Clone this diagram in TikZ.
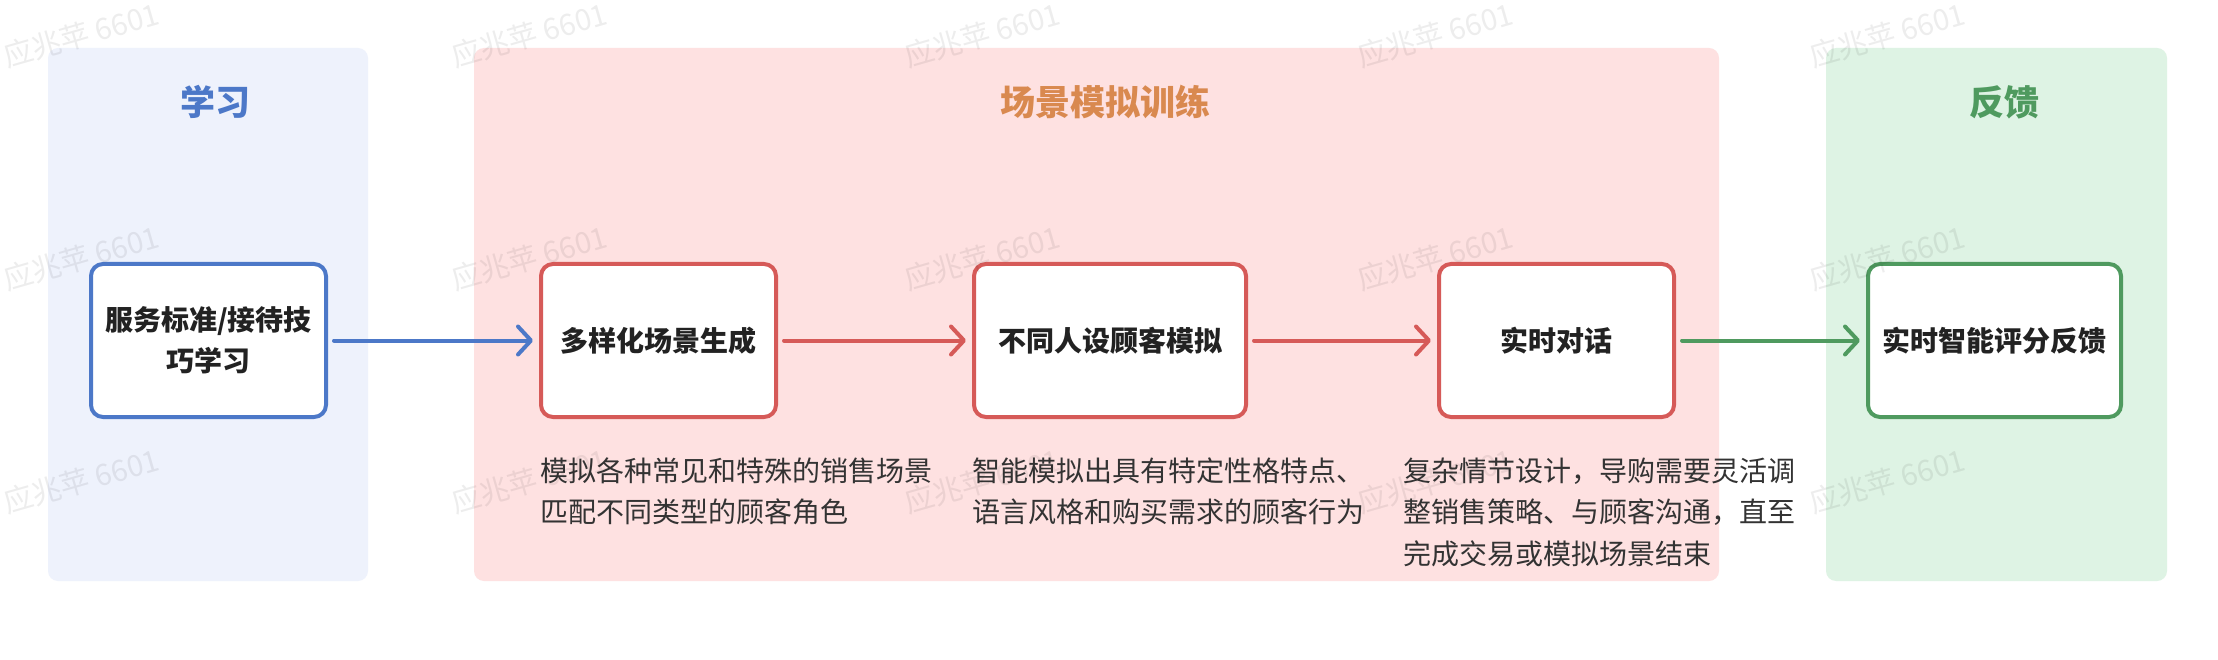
\documentclass[tikz,border=0pt]{standalone}
\usepackage{fontspec}
\setmainfont{Noto Sans CJK SC}
\usetikzlibrary{arrows.meta}
\definecolor{blueC}{HTML}{4C78C8}
\definecolor{blueBg}{HTML}{EEF2FC}
\definecolor{redC}{HTML}{D65A58}
\definecolor{redBg}{HTML}{FEE1E1}
\definecolor{orangeC}{HTML}{D9894F}
\definecolor{greenC}{HTML}{4F9A5F}
\definecolor{greenBg}{HTML}{DEF3E4}
\definecolor{txt}{HTML}{222222}
\definecolor{desc}{HTML}{333333}
\begin{document}
\begin{tikzpicture}[x=1pt,y=-1pt,
  panel/.style={rounded corners=10pt, inner sep=0, outer sep=0, fill=#1},
  stepbox/.style={draw=#1, fill=white, line width=4pt, rounded corners=12pt,
    minimum height=153pt, inner sep=0, text=txt, align=center,
    font=\bfseries\fontsize{28}{41}\selectfont},
  flow/.style={draw=#1, line width=4pt, line cap=round,
    -{Straight Barb[length=13pt,width=28pt,round]}, shorten <=6pt, shorten >=6pt},
  ttl/.style={inner sep=0, text=#1, font=\bfseries\fontsize{35}{40}\selectfont},
  dsc/.style={anchor=west, inner sep=0, text=desc, font=\fontsize{28}{40}\selectfont},
  wm/.style={anchor=base west, rotate=16, inner sep=0, text=black, text opacity=0.07,
    font=\fontsize{29.5}{32}\selectfont},
]
\useasboundingbox (0,0) rectangle (2218,660);
\fill[white] (0,0) rectangle (2218,660);

% panels
\node[panel=blueBg, minimum width=320pt, minimum height=533pt] (pnlA) at (208,314.5) {};
\node[panel=redBg, minimum width=1245pt, minimum height=533pt] (pnlB) at (1096.5,314.5) {};
\node[panel=greenBg, minimum width=341pt, minimum height=533pt] (pnlC) at (1996.5,314.5) {};

% titles
\node[ttl=blueC] (tA) at (215,102) {学习};
\node[ttl=orangeC] (tB) at (1105,102) {场景模拟训练};
\node[ttl=greenC] (tC) at (2004,102) {反馈};

% boxes
\node[stepbox=blueC, minimum width=235pt] (b1) at (208.5,340.5) {服务标准/接待技\\巧学习};
\node[stepbox=redC, minimum width=235pt] (b2) at (658.5,340.5) {多样化场景生成};
\node[stepbox=redC, minimum width=272pt] (b3) at (1110,340.5) {不同人设顾客模拟};
\node[stepbox=redC, minimum width=235pt] (b4) at (1556.5,340.5) {实时对话};
\node[stepbox=greenC, minimum width=253pt] (b5) at (1994.5,340.5) {实时智能评分反馈};

% connectors
\draw[flow=blueC] (b1) -- (b2);
\draw[flow=redC] (b2) -- (b3);
\draw[flow=redC] (b3) -- (b4);
\draw[flow=greenC] (b4) -- (b5);

% descriptions
\node[dsc] (d1a) at (540,471) {模拟各种常见和特殊的销售场景};
\node[dsc] (d1b) at (540,512) {匹配不同类型的顾客角色};
\node[dsc] (d2a) at (972,471) {智能模拟出具有特定性格特点、};
\node[dsc] (d2b) at (972,512) {语言风格和购买需求的顾客行为};
\node[dsc] (d3a) at (1403,471) {复杂情节设计，导购需要灵活调};
\node[dsc] (d3b) at (1403,512) {整销售策略、与顾客沟通，直至};
\node[dsc] (d3c) at (1403,554) {完成交易或模拟场景结束};

% watermarks
\foreach \c/\x in {1/7,2/455,3/908,4/1361,5/1813}{
  \foreach \r/\y in {1/68,2/291,3/514}{
    \node[wm] (wm\c\r) at (\x,\y) {应兆苹 6601};
  }
}
\end{tikzpicture}
\end{document}
